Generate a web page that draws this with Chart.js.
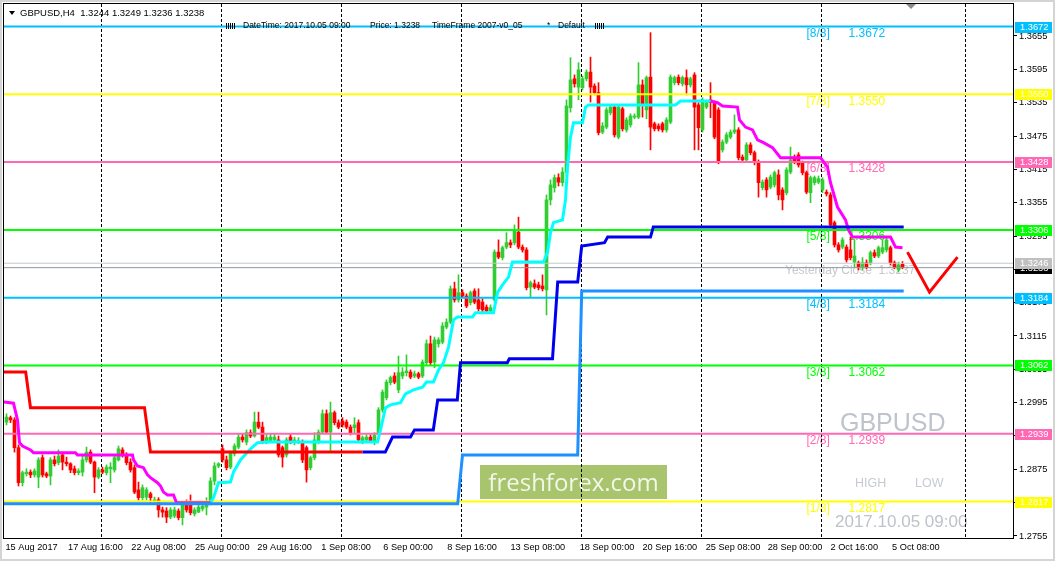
<!DOCTYPE html>
<html><head><meta charset="utf-8">
<script src="https://cdn.jsdelivr.net/npm/chart.js@4"></script>
<style>html,body{margin:0;padding:0;background:#fff;overflow:hidden}canvas{display:block}</style>
</head><body>
<canvas id="c" width="1055" height="561"></canvas>
<script>
// GBPUSD H4 - MT4 style screenshot rebuilt with Chart.js floating bars
const timeLabels = ['15 Aug 2017','17 Aug 16:00','22 Aug 08:00','25 Aug 00:00','29 Aug 16:00','1 Sep 08:00','6 Sep 00:00','8 Sep 16:00','13 Sep 08:00','18 Sep 00:00','20 Sep 16:00','25 Sep 08:00','28 Sep 00:00','2 Oct 16:00','5 Oct 08:00'];
const timeLabelBars = [-0.25,15.4,31.2,47.1,62.7,78.7,94.2,110.2,126,143.3,159,174.8,190.3,206,221.4];
const gridBars = [23.8,53.8,83.8,113.8,143.8,173.8,203.8,239.8];
const priceTicks = [1.2755,1.2815,1.2875,1.2935,1.2995,1.3055,1.3115,1.3175,1.3235,1.3295,1.3355,1.3415,1.3475,1.3535,1.3595,1.3655];

const murreyNames = ['[8/8]','[7/8]','[6/8]','[5/8]','[4/8]','[3/8]','[2/8]','[1/8]'];
const murreyLevels = [1.3672,1.3550,1.3428,1.3306,1.3184,1.3062,1.2939,1.2817];
const yesterdayClose = 1.3246;
const lastPrice = 1.3238;

// open, high, low, close per H4 bar
const candles = [
[1.2960,1.2975,1.2955,1.2969],[1.2968,1.2971,1.2959,1.2964],[1.2964,1.2968,1.2906,1.2914],[1.2914,1.2919,1.2845,1.2851],
[1.2851,1.2872,1.2845,1.2869],[1.2867,1.2876,1.2863,1.2870],[1.2870,1.2874,1.2860,1.2865],[1.2865,1.2876,1.2861,1.2872],
[1.2861,1.2896,1.2842,1.2892],[1.2896,1.2901,1.2861,1.2865],[1.2867,1.2870,1.2860,1.2863],[1.2863,1.2896,1.2847,1.2892],
[1.2892,1.2899,1.2881,1.2885],[1.2887,1.2910,1.2883,1.2899],[1.2901,1.2906,1.2874,1.2888],[1.2888,1.2897,1.2881,1.2885],
[1.2885,1.2887,1.2869,1.2874],[1.2876,1.2881,1.2865,1.2869],[1.2869,1.2876,1.2865,1.2872],[1.2870,1.2901,1.2863,1.2892],
[1.2892,1.2915,1.2888,1.2906],[1.2906,1.2910,1.2885,1.2888],[1.2888,1.2890,1.2833,1.2861],[1.2861,1.2878,1.2858,1.2874],
[1.2874,1.2879,1.2867,1.2870],[1.2869,1.2883,1.2865,1.2879],[1.2876,1.2887,1.2851,1.2879],[1.2874,1.2899,1.2870,1.2896],
[1.2892,1.2917,1.2890,1.2912],[1.2910,1.2914,1.2897,1.2901],[1.2901,1.2905,1.2883,1.2887],[1.2888,1.2894,1.2870,1.2874],
[1.2878,1.2883,1.2831,1.2834],[1.2838,1.2852,1.2820,1.2824],[1.2824,1.2847,1.2820,1.2842],[1.2825,1.2842,1.2820,1.2838],
[1.2831,1.2834,1.2815,1.2824],[1.2818,1.2825,1.2815,1.2820],[1.2820,1.2824,1.2789,1.2802],[1.2802,1.2807,1.2789,1.2798],
[1.2800,1.2806,1.2779,1.2789],[1.2789,1.2806,1.2786,1.2802],[1.2791,1.2807,1.2788,1.2802],[1.2800,1.2804,1.2784,1.2788],
[1.2788,1.2815,1.2775,1.2811],[1.2813,1.2820,1.2798,1.2802],[1.2811,1.2829,1.2793,1.2797],[1.2795,1.2806,1.2791,1.2802],
[1.2798,1.2811,1.2797,1.2807],[1.2804,1.2815,1.2800,1.2809],[1.2807,1.2824,1.2793,1.2811],[1.2813,1.2860,1.2811,1.2854],
[1.2854,1.2887,1.2847,1.2881],[1.2881,1.2887,1.2878,1.2885],[1.2912,1.2919,1.2888,1.2892],[1.2892,1.2899,1.2874,1.2878],
[1.2879,1.2908,1.2876,1.2905],[1.2903,1.2921,1.2899,1.2917],[1.2915,1.2939,1.2912,1.2933],[1.2933,1.2939,1.2924,1.2928],
[1.2924,1.2946,1.2919,1.2941],[1.2941,1.2946,1.2932,1.2935],[1.2935,1.2978,1.2933,1.2960],[1.2960,1.2978,1.2948,1.2951],
[1.2951,1.2960,1.2921,1.2924],[1.2924,1.2937,1.2921,1.2932],[1.2926,1.2939,1.2923,1.2933],[1.2928,1.2939,1.2924,1.2933],
[1.2928,1.2935,1.2897,1.2901],[1.2914,1.2917,1.2879,1.2897],[1.2901,1.2932,1.2897,1.2928],[1.2933,1.2939,1.2921,1.2924],
[1.2923,1.2933,1.2919,1.2928],[1.2924,1.2932,1.2921,1.2926],[1.2924,1.2928,1.2887,1.2892],[1.2914,1.2917,1.2852,1.2874],
[1.2878,1.2899,1.2874,1.2896],[1.2896,1.2941,1.2892,1.2928],[1.2924,1.2946,1.2921,1.2942],[1.2942,1.2982,1.2939,1.2975],
[1.2975,1.2982,1.2939,1.2942],[1.2942,1.2996,1.2906,1.2977],[1.2977,1.2980,1.2955,1.2959],[1.2959,1.2964,1.2948,1.2951],
[1.2962,1.2968,1.2951,1.2955],[1.2960,1.2964,1.2948,1.2951],[1.2951,1.2955,1.2937,1.2941],[1.2950,1.2968,1.2941,1.2955],
[1.2959,1.2964,1.2924,1.2928],[1.2924,1.2935,1.2921,1.2932],[1.2928,1.2937,1.2924,1.2933],[1.2933,1.2937,1.2923,1.2926],
[1.2923,1.2941,1.2919,1.2937],[1.2941,1.2986,1.2937,1.2982],[1.2982,1.3018,1.2978,1.3014],[1.3004,1.3036,1.3000,1.3032],
[1.3031,1.3043,1.3027,1.3040],[1.3043,1.3049,1.3029,1.3032],[1.3018,1.3079,1.3013,1.3049],[1.3043,1.3058,1.3038,1.3050],
[1.3049,1.3081,1.3043,1.3052],[1.3050,1.3054,1.3038,1.3041],[1.3043,1.3052,1.3040,1.3047],[1.3047,1.3050,1.3038,1.3041],
[1.3043,1.3072,1.3040,1.3068],[1.3067,1.3108,1.3063,1.3101],[1.3101,1.3115,1.3063,1.3067],[1.3068,1.3113,1.3058,1.3108],
[1.3101,1.3112,1.3095,1.3108],[1.3104,1.3139,1.3101,1.3133],[1.3131,1.3146,1.3128,1.3140],[1.3140,1.3205,1.3137,1.3200],
[1.3200,1.3212,1.3176,1.3180],[1.3180,1.3225,1.3176,1.3193],[1.3193,1.3198,1.3184,1.3187],[1.3187,1.3191,1.3166,1.3169],
[1.3175,1.3196,1.3171,1.3193],[1.3196,1.3200,1.3173,1.3176],[1.3180,1.3200,1.3160,1.3164],[1.3176,1.3182,1.3158,1.3162],
[1.3167,1.3171,1.3157,1.3160],[1.3160,1.3171,1.3157,1.3166],[1.3180,1.3270,1.3176,1.3266],[1.3266,1.3288,1.3254,1.3257],
[1.3256,1.3277,1.3252,1.3274],[1.3275,1.3301,1.3272,1.3283],[1.3283,1.3288,1.3274,1.3279],[1.3283,1.3315,1.3279,1.3306],
[1.3302,1.3329,1.3272,1.3275],[1.3275,1.3279,1.3266,1.3270],[1.3270,1.3274,1.3198,1.3202],[1.3203,1.3214,1.3185,1.3211],
[1.3209,1.3216,1.3200,1.3203],[1.3207,1.3212,1.3198,1.3202],[1.3205,1.3225,1.3196,1.3200],[1.3198,1.3369,1.3153,1.3360],
[1.3360,1.3396,1.3351,1.3387],[1.3382,1.3405,1.3374,1.3400],[1.3400,1.3407,1.3385,1.3392],[1.3391,1.3418,1.3385,1.3410],
[1.3410,1.3540,1.3403,1.3529],[1.3526,1.3616,1.3518,1.3576],[1.3578,1.3585,1.3563,1.3569],[1.3563,1.3607,1.3540,1.3594],
[1.3562,1.3583,1.3558,1.3578],[1.3578,1.3594,1.3574,1.3590],[1.3590,1.3617,1.3536,1.3563],[1.3565,1.3569,1.3549,1.3553],
[1.3553,1.3571,1.3477,1.3481],[1.3482,1.3499,1.3479,1.3493],[1.3491,1.3526,1.3488,1.3522],[1.3517,1.3531,1.3513,1.3527],
[1.3527,1.3531,1.3473,1.3477],[1.3473,1.3531,1.3470,1.3527],[1.3524,1.3527,1.3484,1.3488],[1.3486,1.3508,1.3482,1.3504],
[1.3495,1.3515,1.3491,1.3511],[1.3509,1.3515,1.3506,1.3511],[1.3509,1.3607,1.3506,1.3567],[1.3567,1.3576,1.3509,1.3531],
[1.3522,1.3583,1.3506,1.3580],[1.3581,1.3661,1.3450,1.3491],[1.3497,1.3500,1.3484,1.3488],[1.3493,1.3497,1.3484,1.3488],
[1.3497,1.3500,1.3482,1.3486],[1.3486,1.3508,1.3482,1.3504],[1.3500,1.3585,1.3497,1.3581],[1.3571,1.3583,1.3567,1.3580],
[1.3581,1.3585,1.3567,1.3571],[1.3569,1.3583,1.3565,1.3580],[1.3580,1.3594,1.3549,1.3567],[1.3567,1.3581,1.3563,1.3578],
[1.3585,1.3589,1.3450,1.3527],[1.3531,1.3535,1.3450,1.3490],[1.3486,1.3544,1.3482,1.3540],[1.3527,1.3538,1.3524,1.3535],
[1.3540,1.3571,1.3508,1.3535],[1.3535,1.3538,1.3470,1.3473],[1.3522,1.3526,1.3425,1.3428],[1.3450,1.3468,1.3446,1.3464],
[1.3464,1.3481,1.3461,1.3477],[1.3473,1.3486,1.3470,1.3482],[1.3482,1.3513,1.3479,1.3486],[1.3486,1.3490,1.3432,1.3436],
[1.3437,1.3441,1.3427,1.3432],[1.3432,1.3463,1.3428,1.3459],[1.3459,1.3463,1.3441,1.3445],[1.3445,1.3448,1.3423,1.3427],
[1.3428,1.3432,1.3365,1.3391],[1.3382,1.3396,1.3378,1.3392],[1.3396,1.3400,1.3365,1.3378],[1.3383,1.3405,1.3380,1.3401],
[1.3387,1.3412,1.3383,1.3409],[1.3405,1.3414,1.3360,1.3369],[1.3378,1.3382,1.3342,1.3360],[1.3373,1.3418,1.3369,1.3414],
[1.3410,1.3455,1.3407,1.3432],[1.3437,1.3441,1.3425,1.3428],[1.3441,1.3445,1.3419,1.3423],[1.3427,1.3430,1.3405,1.3409],
[1.3409,1.3412,1.3371,1.3374],[1.3373,1.3403,1.3355,1.3400],[1.3391,1.3403,1.3387,1.3400],[1.3392,1.3403,1.3389,1.3398],
[1.3378,1.3400,1.3373,1.3396],[1.3374,1.3378,1.3367,1.3371],[1.3369,1.3373,1.3311,1.3315],[1.3319,1.3322,1.3275,1.3279],
[1.3279,1.3283,1.3266,1.3270],[1.3275,1.3292,1.3272,1.3288],[1.3275,1.3279,1.3248,1.3252],[1.3270,1.3293,1.3252,1.3256],
[1.3248,1.3288,1.3239,1.3259],[1.3247,1.3250,1.3234,1.3239],[1.3239,1.3256,1.3234,1.3247],[1.3247,1.3252,1.3236,1.3239],
[1.3247,1.3268,1.3243,1.3265],[1.3265,1.3270,1.3256,1.3259],[1.3259,1.3277,1.3256,1.3274],[1.3266,1.3288,1.3263,1.3274],
[1.3270,1.3293,1.3266,1.3288],[1.3274,1.3277,1.3243,1.3247],[1.3247,1.3250,1.3236,1.3239],[1.3234,1.3248,1.3230,1.3243],
[1.3244,1.3249,1.3236,1.3238]
];

// indicator lines: [bar, price]
const redStop = [[-0.625,1.3050],[4.8,1.3050],[6,1.2986],[34.5,1.2986],[36,1.2906],[89,1.2906]];
const blueStop = [[89,1.2906],[94.7,1.2906],[96.5,1.2933],[101,1.2933],[102,1.2946],[106.7,1.2946],[107.8,1.3000],[112.7,1.3000],[113.5,1.3067],[125.2,1.3067],[125.7,1.3074],[136.5,1.3074],[137.8,1.3212],[142.8,1.3212],[143.8,1.3277],[149.5,1.3283],[150.3,1.3293],[161,1.3293],[161.7,1.3311],[224.3,1.3311]];
const dodgerStop = [[-0.625,1.2813],[112.8,1.2813],[114,1.2901],[142.8,1.2901],[143.8,1.3196],[224.3,1.3196]];
const magentaEarly = [[-0.625,1.2996],[1.75,1.2994],[2.75,1.2964],[3.25,1.2923],[4,1.2917],[6,1.2910],[6.75,1.2905],[17.25,1.2905],[17.75,1.2901],[31.5,1.2901],[31.75,1.2892],[32.75,1.2881],[34.25,1.2878],[35.25,1.2865],[36,1.2860],[37.75,1.2851],[38.5,1.2845],[39.25,1.2834],[40.25,1.2829],[41.75,1.2829],[42.5,1.2815],[51,1.2815]];
const cyanTrail = [[51,1.2815],[51.75,1.2824],[53,1.2851],[56,1.2852],[56.75,1.2870],[58.5,1.2892],[60.25,1.2906],[61.5,1.2915],[62.75,1.2923],[65.25,1.2924],[92.75,1.2924],[93.5,1.2946],[94.75,1.2986],[96,1.2991],[98.5,1.2995],[99.75,1.3011],[101.75,1.3018],[104,1.3023],[105,1.3032],[106.75,1.3032],[108,1.3054],[109.25,1.3067],[110.5,1.3095],[111.75,1.3144],[112.75,1.3149],[116.5,1.3149],[117.25,1.3157],[121.75,1.3157],[122.25,1.3175],[122.75,1.3193],[124,1.3207],[125.5,1.3221],[126.5,1.3248],[134.25,1.3248],[135.25,1.3265],[136,1.3301],[136.75,1.3319],[139,1.3324],[139.75,1.3360],[140.25,1.3419],[141,1.3473],[141.75,1.3499],[144,1.3499],[144.75,1.3527],[145.5,1.3531],[167.25,1.3531],[168.5,1.3538],[176,1.3538]];
const magentaLate = [[176,1.3538],[177.75,1.3535],[179,1.3529],[182.75,1.3527],[183.25,1.3504],[184.75,1.3491],[186.5,1.3486],[187.75,1.3468],[189.25,1.3463],[191.5,1.3454],[193.5,1.3436],[203.5,1.3436],[205.25,1.3419],[206,1.3391],[207.75,1.3347],[209.75,1.3324],[210.5,1.3306],[211.5,1.3293],[221,1.3293],[222.25,1.3275],[224,1.3274]];
const forecastV = [[225.25,1.3266],[230.75,1.3194],[237.75,1.3257]];

// styles
const murreyColors = ['#00BFFF','#FFFF00','#FF69B4','#00FF00','#00BFFF','#00FF00','#FF69B4','#FFFF00'];
const bull = '#32CD32', bear = '#FF0000';
const xMin = -0.625, xMax = 251.625;
const tahoma = '"Liberation Sans", Arial, sans-serif';
Chart.defaults.font.family = tahoma;

const pts = arr => arr.map(p => ({x: p[0], y: p[1]}));
const lineSet = (arr, color, width, order) => ({
  type: 'line', data: pts(arr), borderColor: color, borderWidth: width,
  pointRadius: 0, fill: false, tension: 0, order: order, xAxisID: 'x', yAxisID: 'y'
});
const candleColors = candles.map(c => c[3] >= c[0] ? bull : bear);

const datasets = [
  {type: 'bar', data: candles.map((c, i) => ({x: i, y: [c[2], c[1]]})), backgroundColor: candleColors,
   barThickness: 1, grouped: false, order: 10, xAxisID: 'x', yAxisID: 'y'},
  {type: 'bar', data: candles.map((c, i) => ({x: i, y: [c[0], c[3]]})), backgroundColor: candleColors,
   barThickness: 3, minBarLength: 1, grouped: false, order: 9, xAxisID: 'x', yAxisID: 'y'},
  lineSet([[xMin, yesterdayClose], [xMax, yesterdayClose]], '#C8C8C8', 1, 3),
  lineSet([[xMin, lastPrice], [xMax, lastPrice]], '#8C96A0', 1, 3)
];
murreyLevels.forEach((v, k) => datasets.push(lineSet([[xMin, v], [xMax, v]], murreyColors[k], 2, 2)));
datasets.push(
  lineSet(redStop, '#FF0000', 3, 1),
  lineSet(blueStop, '#0000F0', 3, 1),
  lineSet(dodgerStop, '#1E90FF', 3, 1),
  lineSet(magentaEarly, '#FF00FF', 3, 1),
  lineSet(cyanTrail, '#00FFFF', 3, 1),
  lineSet(magentaLate, '#FF00FF', 3, 1),
  lineSet(forecastV, '#FF0000', 3, 0)
);

function ticksLine(ctx, x0){ for(let k=0;k<5;k++){ ctx.fillRect(x0+k*2, 23, 1, 6); } }

const overlay = {
  id: 'overlay',
  beforeDraw(chart){
    const {ctx, scales:{x, y}} = chart;
    ctx.save();
    ctx.fillStyle = '#fff'; ctx.fillRect(0, 0, chart.width, chart.height);
    // brand badge
    ctx.fillStyle = '#A8C46C'; ctx.fillRect(480, 465, 187, 34);
    ctx.fillStyle = '#F3F6EA'; ctx.font = '24px "Open Sans"';
    ctx.textAlign = 'center'; ctx.textBaseline = 'alphabetic';
    ctx.fillText('freshforex.com', 573.5, 491);
    // watermark texts
    ctx.textAlign = 'left';
    ctx.fillStyle = '#BEC3CC'; ctx.font = '25px ' + tahoma; ctx.fillText('GBPUSD', 840, 431);
    ctx.fillStyle = '#C6CAD2'; ctx.font = '12.5px ' + tahoma;
    ctx.fillText('HIGH', 855, 487); ctx.fillText('LOW', 915, 487);
    ctx.fillStyle = '#BEC2CA'; ctx.font = '17px ' + tahoma; ctx.fillText('2017.10.05 09:00', 835, 527);
    // murrey level labels
    ctx.font = '12px ' + tahoma; ctx.textBaseline = 'middle';
    murreyLevels.forEach((v, k) => {
      const py = y.getPixelForValue(v) + 7;
      ctx.fillStyle = murreyColors[k];
      ctx.fillText(murreyNames[k], x.getPixelForValue(200), py);
      ctx.fillText(v.toFixed(4), x.getPixelForValue(210.5), py);
    });
    ctx.restore();
  },
  beforeDatasetsDraw(chart){
    const {ctx, scales:{y}} = chart;
    ctx.save();
    ctx.fillStyle = '#C8C8C8'; ctx.font = '12px ' + tahoma; ctx.textBaseline = 'middle';
    ctx.fillText('Yesterday Close  1.3237', 785, y.getPixelForValue(yesterdayClose) + 7);
    ctx.restore();
  },
  afterDraw(chart){
    const {ctx, chartArea:a, scales:{y}} = chart;
    ctx.save();
    // frame
    ctx.strokeStyle = '#000'; ctx.lineWidth = 1;
    ctx.strokeRect(a.left - 0.5, a.top - 0.5, a.right - a.left + 1, a.bottom - a.top + 1);
    ctx.strokeStyle = '#D4D4D4'; ctx.lineWidth = 2;
    ctx.strokeRect(1, 1, chart.width - 2, chart.height - 2);
    // price boxes on the right scale
    ctx.font = '9.3px ' + tahoma; ctx.textBaseline = 'middle';
    const box = (v, fill) => {
      const py = Math.round(y.getPixelForValue(v));
      ctx.fillStyle = fill; ctx.fillRect(1015, py - 5, 37, 11);
      ctx.fillStyle = '#fff'; ctx.fillText(v.toFixed(4), 1020, py + 0.5);
    };
    box(lastPrice, '#000');
    box(yesterdayClose, '#C0C0C0');
    murreyLevels.forEach((v, k) => box(v, murreyColors[k]));
    // header
    ctx.fillStyle = '#000';
    ctx.beginPath(); ctx.moveTo(9, 11); ctx.lineTo(15, 11); ctx.lineTo(12, 15); ctx.closePath(); ctx.fill();
    ctx.font = '9.5px ' + tahoma;
    ctx.fillText('GBPUSD,H4  1.3244 1.3249 1.3236 1.3238', 20, 13);
    ctx.font = '8.5px ' + tahoma;
    ticksLine(ctx, 226);
    ctx.fillText('DateTime: 2017.10.05 09:00', 243, 26);
    ctx.fillText('Price: 1.3238', 370, 26);
    ctx.fillText('TimeFrame 2007-v0_05', 432, 26);
    ctx.fillText('*', 547, 26);
    ctx.fillText('Default', 558, 26);
    ticksLine(ctx, 595);
    // small scroll marker
    ctx.fillStyle = '#8A8A8A';
    ctx.beginPath(); ctx.moveTo(906, 4); ctx.lineTo(916, 4); ctx.lineTo(911, 9); ctx.closePath(); ctx.fill();
    ctx.restore();
  }
};

new Chart(document.getElementById('c'), {
  type: 'bar',
  data: {datasets},
  plugins: [overlay],
  options: {
    responsive: false, animation: false, events: [],
    layout: {padding: {left: 4, top: 4, right: 0, bottom: 0}},
    plugins: {legend: {display: false}, tooltip: {enabled: false}},
    scales: {
      x: {
        type: 'linear', position: 'bottom', min: xMin, max: xMax, offset: false,
        afterBuildTicks: s => { s.ticks = timeLabelBars.map(v => ({value: v})); },
        afterFit: s => { s.height = 23; s.paddingLeft = 0; s.paddingRight = 0; },
        ticks: {autoSkip: false, maxRotation: 0, align: 'start', padding: 4, color: '#000',
                font: {size: 9.2}, callback: (v, i) => timeLabels[i]},
        grid: {display: true, drawOnChartArea: false, drawTicks: false, offset: false},
        border: {display: true, color: '#000'}
      },
      xg: {
        type: 'linear', position: 'top', min: xMin, max: xMax, offset: false,
        afterBuildTicks: s => { s.ticks = gridBars.map(v => ({value: v})); },
        afterFit: s => { s.height = 0; s.paddingLeft = 0; s.paddingRight = 0; },
        ticks: {display: false},
        grid: {drawOnChartArea: true, drawTicks: false, color: '#000', lineWidth: 1, offset: false},
        border: {display: false, dash: [3, 2]}
      },
      y: {
        type: 'linear', position: 'right', min: 1.27514, max: 1.37126,
        afterBuildTicks: s => { s.ticks = priceTicks.map(v => ({value: v})); },
        afterFit: s => { s.width = 42; s.paddingTop = 0; s.paddingBottom = 0; },
        ticks: {autoSkip: false, padding: 2, color: '#000', font: {size: 9.3}, callback: v => v.toFixed(4)},
        grid: {drawOnChartArea: false, tickLength: 4, color: '#000'},
        border: {display: true, color: '#000'}
      }
    }
  }
});
</script>
</body></html>
